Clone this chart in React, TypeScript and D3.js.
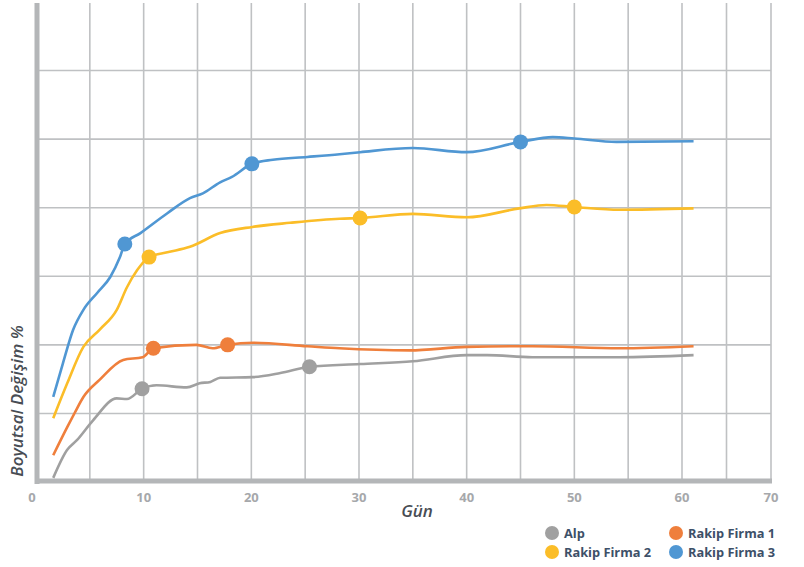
import { useEffect, useRef } from 'react';
import * as d3 from 'd3';

type Pt = [number, number];

// x = gün, y = grid units (each horizontal grid line is 1 unit)
const alp: Pt[] = [
	[1.6, 0.06], [2.9, 0.47], [3.8, 0.61], [5.3, 0.9], [7.5, 1.22], [8.45, 1.21],
	[9.85, 1.36], [11.2, 1.41], [14, 1.38], [15.2, 1.44], [16.2, 1.46], [17.1, 1.52],
	[20.1, 1.53], [22.7, 1.59], [25.4, 1.68], [30.1, 1.72], [35, 1.76], [40, 1.85],
	[41.9, 1.85], [46.1, 1.82], [54.2, 1.82], [61.3, 1.85],
];
const alpMarkers: Pt[] = [[9.85, 1.36], [25.4, 1.68]];

const rakip1: Pt[] = [
	[1.6, 0.39], [2.9, 0.8], [3.6, 1.01], [4.4, 1.24], [5.9, 1.49], [8.1, 1.78],
	[9.9, 1.82], [10.9, 1.95], [14.9, 2.0], [16.4, 1.95], [17.8, 2.0], [20.2, 2.03],
	[25.2, 1.98], [28.2, 1.95], [34.7, 1.92], [40, 1.97], [46.1, 1.98], [54.2, 1.95],
	[61.3, 1.98],
];
const rakip1Markers: Pt[] = [[10.9, 1.95], [17.8, 2.0]];

const rakip2: Pt[] = [
	[1.6, 0.93], [2.9, 1.44], [4.4, 1.97], [5.9, 2.22], [7.5, 2.51], [8.45, 2.84],
	[9.4, 3.09], [10.5, 3.28], [12.2, 3.35], [14.3, 3.43], [17.1, 3.63], [20.1, 3.72],
	[23.6, 3.78], [28.2, 3.84], [30.1, 3.85], [35, 3.91], [40, 3.86], [44.9, 3.99],
	[47.4, 4.04], [50, 4.01], [54.2, 3.97], [61.3, 3.99],
];
const rakip2Markers: Pt[] = [[10.5, 3.28], [30.1, 3.85], [50, 4.01]];

const rakip3: Pt[] = [
	[1.6, 1.24], [2.5, 1.73], [3.45, 2.22], [4.4, 2.51], [5.7, 2.76], [6.9, 2.99],
	[7.8, 3.28], [8.25, 3.47], [9.7, 3.63], [12.2, 3.92], [14.3, 4.14], [15.5, 4.21],
	[17.1, 4.37], [18.2, 4.45], [20.05, 4.64], [22, 4.7], [25.2, 4.74], [28.2, 4.78],
	[30.1, 4.81], [35, 4.87], [40, 4.81], [45, 4.96], [48, 5.03], [50, 5.01],
	[53.9, 4.96], [61.3, 4.97],
];
const rakip3Markers: Pt[] = [[8.25, 3.47], [20.05, 4.64], [45, 4.96]];

const xTicks = [0, 10, 20, 30, 40, 50, 60, 70];
const xGrid = d3.range(5, 71, 5);
const yGrid = [1, 2, 3, 4, 5, 6];

const series = [
	{ name: 'Alp', color: '#a0a0a0', data: alp, markers: alpMarkers },
	{ name: 'Rakip Firma 1', color: '#ef7f3c', data: rakip1, markers: rakip1Markers },
	{ name: 'Rakip Firma 2', color: '#fbbd28', data: rakip2, markers: rakip2Markers },
	{ name: 'Rakip Firma 3', color: '#5097d3', data: rakip3, markers: rakip3Markers },
];

export default function App() {
	const svgRef = useRef<SVGSVGElement>(null);

	useEffect(() => {
		if (!svgRef.current) return;
		const svg = d3.select(svgRef.current);
		svg.selectAll('*').remove();

		const x = d3.scaleLinear().domain([0, 60, 70]).range([36, 682, 771]);
		const y = d3.scaleLinear().domain([0, 7]).range([482, 2]);

		const font = "'Open Sans', 'Noto Sans', sans-serif";
		const gridColor = '#bfc1c3';
		const axisColor = '#b4b6b8';

		// grid
		svg.append('g')
			.selectAll('line')
			.data(xGrid)
			.enter()
			.append('line')
			.attr('x1', (d) => x(d))
			.attr('x2', (d) => x(d))
			.attr('y1', 3)
			.attr('y2', 482)
			.attr('stroke', gridColor)
			.attr('stroke-width', 1.6);

		svg.append('g')
			.selectAll('line')
			.data(yGrid)
			.enter()
			.append('line')
			.attr('x1', 37)
			.attr('x2', x(70))
			.attr('y1', (d) => y(d))
			.attr('y2', (d) => y(d))
			.attr('stroke', gridColor)
			.attr('stroke-width', 1.6);

		// axes
		svg.append('line')
			.attr('x1', 37)
			.attr('x2', 37)
			.attr('y1', 3)
			.attr('y2', 484)
			.attr('stroke', axisColor)
			.attr('stroke-width', 5);
		svg.append('line')
			.attr('x1', 35)
			.attr('x2', x(70) + 1)
			.attr('y1', 481)
			.attr('y2', 481)
			.attr('stroke', axisColor)
			.attr('stroke-width', 5);

		svg.append('g')
			.selectAll('text')
			.data(xTicks)
			.enter()
			.append('text')
			.attr('x', (d) => (d === 0 ? 32 : x(d)))
			.attr('y', 502)
			.attr('text-anchor', 'middle')
			.attr('font-family', font)
			.attr('font-weight', 700)
			.attr('font-size', 13)
			.attr('fill', '#a6a8ab')
			.text((d) => d);

		svg.append('text')
			.attr('x', 417)
			.attr('y', 517)
			.attr('text-anchor', 'middle')
			.attr('font-family', font)
			.attr('font-style', 'italic')
			.attr('font-weight', 600)
			.attr('font-size', 17)
			.attr('fill', '#484d54')
			.text('Gün');

		svg.append('text')
			.attr('transform', 'translate(23,401) rotate(-90)')
			.attr('text-anchor', 'middle')
			.attr('font-family', font)
			.attr('font-style', 'italic')
			.attr('font-weight', 600)
			.attr('font-size', 17)
			.attr('fill', '#484d54')
			.text('Boyutsal Değişim %');

		const line = d3
			.line<Pt>()
			.x((d) => x(d[0]))
			.y((d) => y(d[1]))
			.curve(d3.curveMonotoneX);

		series.forEach((s) => {
			svg.append('path')
				.datum(s.data)
				.attr('fill', 'none')
				.attr('stroke', s.color)
				.attr('stroke-width', 2.6)
				.attr('d', line);
		});
		series.forEach((s) => {
			svg.append('g')
				.selectAll('circle')
				.data(s.markers)
				.enter()
				.append('circle')
				.attr('cx', (d) => x(d[0]))
				.attr('cy', (d) => y(d[1]))
				.attr('r', 7.5)
				.attr('fill', s.color);
		});

		// legend
		const legendPos = [
			[552, 533],
			[676, 533],
			[552, 552],
			[676, 552],
		];
		series.forEach((s, i) => {
			const [lx, ly] = legendPos[i];
			svg.append('circle')
				.attr('cx', lx)
				.attr('cy', ly)
				.attr('r', 7)
				.attr('fill', s.color);
			svg.append('text')
				.attr('x', lx + 12)
				.attr('y', ly + 4.5)
				.attr('font-family', font)
				.attr('font-weight', 700)
				.attr('font-size', 12.8)
				.attr('fill', '#3d5068')
				.text(s.name);
		});
	}, []);

	return (
		<div style={{ position: 'absolute', left: 0, top: 0 }}>
			<svg ref={svgRef} width={804} height={567} style={{ display: 'block', background: '#fff' }} />
		</div>
	);
}
